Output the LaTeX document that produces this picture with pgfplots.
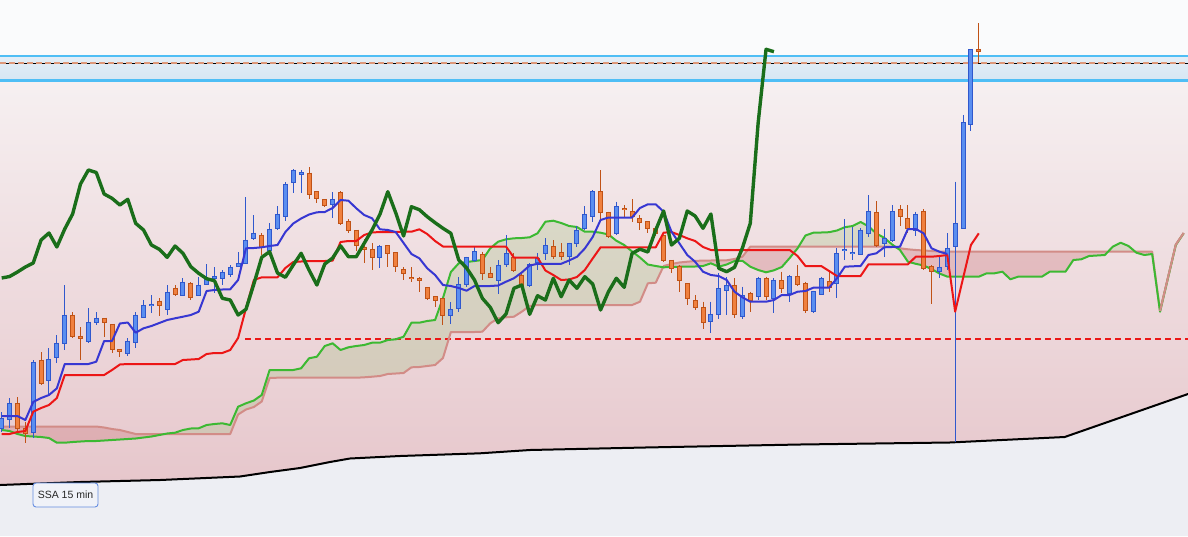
\documentclass[border=0pt]{standalone}
\usepackage{pgfplots}
\pgfplotsset{compat=1.18}
\usepackage{pgfplotstable}
\usepgfplotslibrary{fillbetween}
\usepackage{fontspec}
\setmainfont{Liberation Sans}

\definecolor{topbg}{RGB}{250,251,252}
\definecolor{bandtop}{RGB}{228,238,247}
\definecolor{bandbot}{RGB}{214,230,243}
\definecolor{pinktop}{RGB}{246,240,241}
\definecolor{pinkbot}{RGB}{230,198,203}
\definecolor{ground}{RGB}{237,238,243}
\definecolor{cyanln}{RGB}{79,190,245}
\definecolor{dashsal}{RGB}{222,152,122}
\definecolor{upfill}{RGB}{90,142,240}
\definecolor{upline}{RGB}{48,88,205}
\definecolor{dnfill}{RGB}{240,128,62}
\definecolor{dnline}{RGB}{192,82,22}
\definecolor{tenkan}{RGB}{55,55,210}
\definecolor{kijun}{RGB}{236,22,22}
\definecolor{chikou}{RGB}{26,110,26}
\definecolor{spanA}{RGB}{60,185,50}
\definecolor{spanB}{RGB}{210,140,135}
\definecolor{cloudG}{RGB}{125,180,85}
\definecolor{cloudR}{RGB}{200,110,115}
\definecolor{labelbd}{RGB}{100,140,225}
\definecolor{labelbg}{RGB}{240,242,248}

% candles, y = pixel rows from the top (axis is reversed)
\pgfplotstableread{
i hi top bot lo
0 412 418 428 432
1 398 403 419 428
4 360 362 432 438
6 348 359 380 395
7 335 343 357 363
8 285 315 343 350
11 308 322 341 343
12 312 318 322 325
16 338 341 353 356
17 312 315 342 348
18 300 305 317 318
19 295 304 305.5 313
21 285 292 309 315
23 278 282 295 296
25 277 285 295 296
26 264 278 284 285
27 267 276.5 278.5 293
28 270 272 278 285
29 265 267 274 277
30 252 263 266 267
31 197 240 263 264
32 215 233 238 240
34 223 229 250 251
35 206 214 228 230
36 182 184 216 221
37 169 170 182 193
38 170 172.5 174 193
42 192 199.3 204.3 218
48 245 246 257.3 268
57 302 309.3 315 324
58 277 284 308.3 311.7
59 256.7 257.3 284 286.7
60 246.7 251.7 260 261.7
63 260 265 280 294
64 235 253.3 264 267.3
67 263.3 264 285.5 286.7
68 253.3 258 262 270
69 238.3 245.7 253.3 260
72 242.7 243.3 256.7 265
73 226 230 243.3 246.7
74 206 214.3 228.3 230
75 190 191.7 216 221.7
78 201.7 206.7 233.3 235
90 301.7 314 321.7 332.7
91 273.3 288.3 314 319.3
92 277 285 290 315
94 286.7 295.7 316 319.3
96 276.7 278.3 296.7 300
98 278.3 280 298.3 312.7
100 275 276.7 293.3 301.7
103 290.7 291.7 311.7 312.5
104 276.7 278.3 294 295
106 248.3 253.3 283.3 298.3
107 219.3 249.2 250.8 260
108 227.3 252 253.4 260
109 228 230 254 255
110 195 211 233.3 236.7
112 229 238.3 243.3 257.3
113 205 211 240 241.7
116 211.7 214 230 236
119 256.7 267.3 271.7 278.3
120 233.3 248 266.7 270
121 181.7 223.3 246.7 442
122 115 122.7 228.3 228.5
123 49.3 49.3 125 130.7
}\upc

\pgfplotstableread{
i hi top bot lo
2 397 403 428 432
3 422 428 433 443
5 352 360 383 385
9 312 315 336 338
10 327 336 338 360
13 318 318 322 337
14 324 324 349 353
15 349 349 351 357
20 298 301 305.5 316
22 285 288 294 296
24 282 283 297 300
33 233 235 247 255
39 167 173 194 199
40 191.7 191.7 198.3 203
41 199 199.3 205 207
43 191 192 223.3 225
44 219 221.7 230 233
45 230 230 245 251
46 239 247.3 249.3 263
47 243 249.3 257.3 270
49 245 245.7 253.3 267
50 252.7 252.7 266.7 272
51 267 269.3 273.3 280
52 267 277.3 278.7 282
53 277 278.3 280.7 292
54 287.3 287.3 298.3 300
55 296.7 296.7 300 306.7
56 298.3 298.3 315 325
61 251.7 254 273 280
62 266.7 273.3 277.3 278.3
65 253.3 257 270 271.7
66 271.7 275 285 286.7
70 240 246.7 256.7 259.3
71 243.3 252.7 256.7 260
76 170 191.7 212.7 220
77 211.7 212 236 238.3
79 205 208.5 209.7 218.3
80 199.3 211.7 216.7 221.7
81 215 218.3 222.7 230
82 221.7 221.7 228.3 233.3
83 228.3 228.3 233.3 236
84 235 235 260 261.7
85 260 260 268 273.3
86 265 266.7 280 291.7
87 283.3 283.3 298.3 305
88 295 300.7 307.3 310
89 301.7 307.3 322.7 329.3
93 278.3 285 314.3 318.3
95 291.7 293.3 300 311.7
97 276.7 278.3 296.7 300
99 271.7 280.5 288.3 293.3
101 265 276 284 286
102 281.7 283.3 310 312.7
105 270.7 281.7 287.3 291.7
111 201 212.3 245 246.7
114 205 209.3 216 226
115 205 218.3 228.3 233.3
117 209.3 211 268.3 270
118 265 266.7 271.7 304
124 23.3 49.3 51.7 63.3
}\dnc

% tenkan, kijun, chikou
\pgfplotstableread{
i tk kj ck
0 416 434 278
1 416 434 276.5
2 416 432 272
3 420 431 267
4 402 411.7 263
5 398 408 240
6 395 405 233
7 388.3 398 247
8 364 375 229
9 364 375 214
10 364 375 184
11 364 375 170
12 361.7 375 172.5
13 341 375 194
14 341 370 198.3
15 323.5 364.5 205
16 322.5 364 199.3
17 332.7 364 223.3
18 328.3 364 230
19 326 364 245
20 323 364 249.3
21 320 364 257.3
22 318.3 364 246
23 316.7 360 253.3
24 315 359.5 266.7
25 311.7 359 273.3
26 291 354 278.7
27 290 353 280.7
28 289.5 353 298.3
29 289.3 350 300
30 280 338 315
31 248.3 308.3 309.3
32 248 280 284
33 247.3 277.3 257.3
34 246 277.3 251.7
35 245 277.3 273
36 232 268 277.3
37 223.5 262 265
38 218.5 261.5 253.3
39 214.5 261 270
40 212.3 261 285
41 212 261 264
42 208 260.7 258
43 200 242 245.7
44 200.7 241 256.7
45 208.3 241 256.7
46 215 235 243.3
47 218.3 232.5 230
48 229.3 232 214.3
49 230 232 191.7
50 232 232 212.7
51 243 231.7 236
52 254 231.7 206.7
53 258.3 229.3 209.7
54 268.3 234 216.7
55 275 241 222.7
56 285 246.5 228.3
57 286 246.5 233.3
58 288 246.5 260
59 290.7 246.5 268
60 286 246.5 280
61 286 246.5 298.3
62 286 246.5 307.3
63 285.5 246.5 322.7
64 281.7 246.5 314
65 278.3 257.5 288.3
66 272.5 257.5 285
67 265.5 257.5 314.3
68 263.8 257.5 295.7
69 263.8 270.5 300
70 263.8 275 278.3
71 263.8 280 296.7
72 260.5 279.5 280
73 256.8 277 288.3
74 248.5 270 276.7
75 237 258.5 284
76 220 247.3 310
77 217.5 247.3 291.7
78 217.5 247.3 278.3
79 217.5 247.3 287.3
80 217.5 247.3 253.3
81 208 247.3 249.2
82 204.3 247.3 252
83 204.3 247.3 230
84 211.7 232.7 211
85 231.7 232 245
86 243.3 235 238.3
87 255 238.3 211
88 261.7 241 216
89 271.7 247 228.3
90 275 250 214
91 276 250 268.3
92 280 250 271.7
93 291.7 250 267.3
94 297.3 250 248
95 301.7 250 223.3
96 301.7 250 122.7
97 301.7 250 49.3
98 300 250 51.7
99 295 250 nan
100 295 250 nan
101 291.7 256 nan
102 291 266 nan
103 287.7 266 nan
104 287.7 266 nan
105 287.7 271 nan
106 278.3 276 nan
107 266.7 276 nan
108 266.3 276 nan
109 266 276 nan
110 255 264.3 nan
111 253.3 264.3 nan
112 247.3 264.3 nan
113 247 264.3 nan
114 246.7 264.3 nan
115 229 264.3 nan
116 229 256.7 nan
117 233.3 256.7 nan
118 248.3 256.7 nan
119 251.7 256 nan
120 254 255 nan
121 nan 311.7 nan
122 nan 278.3 nan
123 nan 245 nan
124 nan 233.3 nan
}\lines

% senkou span A and B (shifted 26 ahead)
\pgfplotstableread{
i A B
0 430 426.5
1 431 426.5
2 434 426.5
3 436 426.5
4 436.5 426.5
5 437 426.5
6 438 426.5
7 442.7 426.5
8 442.7 426.5
9 442 426.5
10 441.5 426.5
11 441 426.5
12 441 426.5
13 440.5 427.5
14 440 429
15 439.5 430
16 439 432
17 438.5 434
18 437.5 434
19 436.5 434
20 435 434
21 433.5 434
22 432.7 434
23 430 434
24 428.5 434
25 428.3 434
26 425 434
27 424 434
28 423.3 434
29 425 434
30 406.7 414.5
31 403.3 409.5
32 400.5 407
33 395 401.5
34 370 378
35 370 377.7
36 370 377.7
37 370 377.7
38 368.3 377.7
39 358.3 377.7
40 356.7 377.7
41 346 377.7
42 343.3 377.7
43 350 377.7
44 347.3 377.7
45 346 377.7
46 345 377.3
47 342.7 376.7
48 342.7 376
49 340 374
50 339.3 373.5
51 336.7 373
52 322.7 367.3
53 322.7 367
54 321 366
55 320 365
56 298 358
57 272 332
58 263.3 332
59 262 332
60 261 332
61 260 331.7
62 248.3 323.3
63 241.7 318.3
64 239.3 317.3
65 238.3 316.7
66 238 311.7
67 237.3 306
68 233.3 305
69 221.7 305
70 220.7 305
71 223 305
72 226 305
73 227 305
74 231.7 305
75 231.7 305
76 232.7 305
77 234.5 305
78 240.7 305
79 245 305
80 251.5 305
81 257.5 301.7
82 264.5 283.3
83 266 282.7
84 267.3 266
85 267 264
86 266.7 262.5
87 266.7 261.7
88 266.5 261
89 266 260.5
90 263.3 260.5
91 266.7 260.3
92 264.5 260.3
93 261 259
94 260.8 256.7
95 266.7 246.7
96 270 246.5
97 272.3 246.5
98 270.3 246.5
99 267 246.5
100 258 246.5
101 248.3 246.5
102 235.5 246.5
103 232.7 246.5
104 232.5 246.5
105 232.2 246.5
106 230.5 246.5
107 227.2 246.5
108 226 246.5
109 222 246.5
110 226.3 246.5
111 233.5 246.5
112 237.8 246.5
113 244.5 246.5
114 250 248.3
115 261.7 249.3
116 263.8 250
117 265.5 250.5
118 269 251
119 273.5 251.5
120 276.6 251.7
121 276.7 251.7
122 276.7 251.7
123 276.7 251.7
124 276.7 251.7
125 273.3 251.7
126 273.3 251.7
127 271.7 251.7
128 279.3 251.7
129 276.7 251.7
130 276.7 251.7
131 276.7 251.7
132 276.7 251.7
133 271.7 251.7
134 271.7 251.7
135 271.7 251.7
136 260 251.7
137 259.3 251.7
138 256 251.7
139 255.5 251.7
140 255 251.7
141 246.7 251.7
142 242.7 251.7
143 246 251.7
144 252.7 251.7
145 255 251.7
146 254 251.7
147 311.7 311
148 278.3 277.8
149 245 244.6
150 233.3 233
}\spans

\begin{document}
\begin{tikzpicture}
\begin{axis}[width=1188pt, height=536pt, scale only axis, set layers,
  xmin=-0.216, xmax=150.55, ymin=0, ymax=536, y dir=reverse,
  hide axis, clip=true]

% background bands
\begin{pgfonlayer}{axis background}
\fill[topbg] (axis cs:-0.216,0) rectangle (axis cs:150.55,57);
\shade[top color=bandtop, bottom color=bandbot] (axis cs:-0.216,56) rectangle (axis cs:150.55,81);
\shade[top color=pinktop, bottom color=pinkbot] (axis cs:-0.216,80) rectangle (axis cs:150.55,490);
\end{pgfonlayer}

% long average and the ground under it
\addplot [fill=ground, draw=none] coordinates {
  (-0.216,485) (9.94,482) (20.1,480) (30.24,476.5) (34.05,472) (37.86,468)
  (41.66,462) (44.2,458.5) (50.55,456) (60.7,453.3) (67.04,450) (81.64,447.5)
  (101.3,444.5) (120.3,442.5) (134.9,437) (150.55,394) (150.55,536) (-0.216,536)};
\addplot [black, line width=2pt, line join=round] coordinates {
  (-0.216,485) (9.94,482) (20.1,480) (30.24,476.5) (34.05,472) (37.86,468)
  (41.66,462) (44.2,458.5) (50.55,456) (60.7,453.3) (67.04,450) (81.64,447.5)
  (101.3,444.5) (120.3,442.5) (134.9,437) (150.55,394)};

% price levels
\addplot [black, line width=0.8pt] coordinates {(-0.216,63.5) (150.55,63.5)};
\addplot [dashsal, line width=2pt, dash pattern=on 6pt off 3pt] coordinates {(-0.216,63.5) (150.55,63.5)};
\addplot [cyanln, line width=2.5pt] coordinates {(-0.216,56.2) (150.55,56.2)};
\addplot [cyanln, line width=2.5pt] coordinates {(-0.216,80.5) (150.55,80.5)};
\addplot [kijun, line width=2pt, dash pattern=on 6pt off 4pt] coordinates {(30.9,339) (150.55,339)};

% cloud
\addplot [draw=none, name path=A] table [x=i, y=A] {\spans};
\addplot [draw=none, name path=B] table [x=i, y=B] {\spans};
\addplot fill between [of=A and B, split,
  every even segment/.style={fill=cloudR, fill opacity=0.3},
  every odd segment/.style={fill=cloudG, fill opacity=0.2}];
\addplot [spanB, line width=2pt, line join=round] table [x=i, y=B] {\spans};
\addplot [spanA, line width=2pt, line join=round] table [x=i, y=A] {\spans};
\addplot [spanB, line width=2pt, line join=round, restrict x to domain=147:150] table [x=i, y=B] {\spans};

% candles
\addplot [upline, line width=1pt, quiver={u=0, v=\thisrow{lo}-\thisrow{hi}}] table [x=i, y=hi] {\upc};
\addplot [upline, line width=5pt, quiver={u=0, v=\thisrow{bot}-\thisrow{top}+1}] table [x=i, y expr=\thisrow{top}-0.5] {\upc};
\addplot [upfill, line width=3pt, quiver={u=0, v=\thisrow{bot}-\thisrow{top}-1}] table [x=i, y expr=\thisrow{top}+0.5] {\upc};
\addplot [dnline, line width=1pt, quiver={u=0, v=\thisrow{lo}-\thisrow{hi}}] table [x=i, y=hi] {\dnc};
\addplot [dnline, line width=5pt, quiver={u=0, v=\thisrow{bot}-\thisrow{top}+1}] table [x=i, y expr=\thisrow{top}-0.5] {\dnc};
\addplot [dnfill, line width=3pt, quiver={u=0, v=\thisrow{bot}-\thisrow{top}-1}] table [x=i, y expr=\thisrow{top}+0.5] {\dnc};

% tenkan, kijun, chikou
\addplot [kijun, line width=2pt, line join=round] table [x=i, y=kj] {\lines};
\addplot [tenkan, line width=2pt, line join=round] table [x=i, y=tk] {\lines};
\addplot [chikou, line width=3.4pt, line join=round] table [x=i, y=ck] {\lines};

\node [draw=labelbd, line width=0.9pt, fill=labelbg, rounded corners=3pt, minimum width=65pt,
  minimum height=24pt, inner sep=0pt, text=black!85,
  font=\fontsize{10.5}{12}\selectfont] at (axis cs:8.1,495) {SSA 15 min};
\end{axis}
\pgfresetboundingbox
\useasboundingbox (current axis.south west) rectangle (current axis.north east);
\end{tikzpicture}
\end{document}
